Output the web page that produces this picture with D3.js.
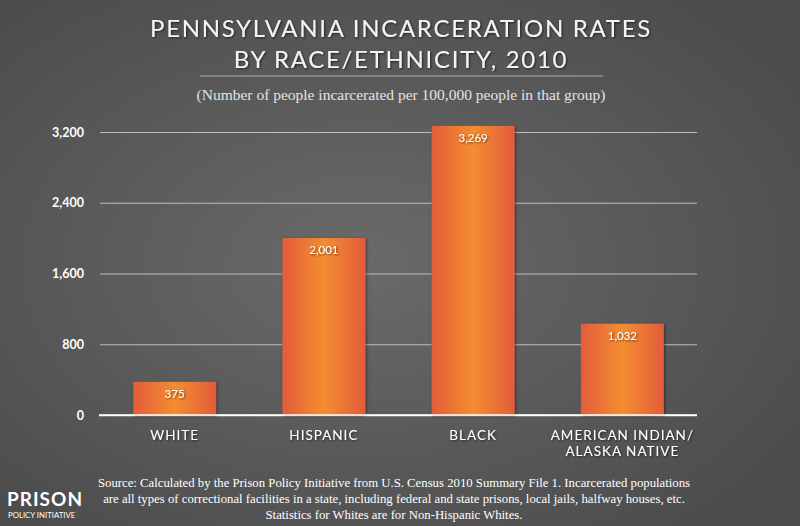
<!DOCTYPE html>
<html>
<head>
<meta charset="utf-8">
<script src="https://cdn.jsdelivr.net/npm/d3@7"></script>
<style>
  body { margin: 0; background: #555; }
  svg { display: block; }
</style>
</head>
<body>
<svg id="chart"></svg>
<script>
const categories = ["WHITE", "HISPANIC", "BLACK", "AMERICAN INDIAN/\nALASKA NATIVE"];
const values = [375, 2001, 3269, 1032];
const yTicks = [0, 800, 1600, 2400, 3200];
const titleLines = ["PENNSYLVANIA INCARCERATION RATES", "BY RACE/ETHNICITY, 2010"];
const subtitle = "(Number of people incarcerated per 100,000 people in that group)";
const sourceLines = [
  "Source: Calculated by the Prison Policy Initiative from U.S. Census 2010 Summary File 1. Incarcerated populations",
  "are all types of correctional facilities in a state, including federal and state prisons, local jails, halfway houses, etc.",
  "Statistics for Whites are for Non-Hispanic Whites."
];

const w = 800, h = 526;
const svg = d3.select("#chart").attr("width", w).attr("height", h);
const defs = svg.append("defs");

// background
const bg = defs.append("radialGradient").attr("id", "bg")
  .attr("cx", "45%").attr("cy", "50%").attr("r", "65%");
bg.append("stop").attr("offset", "0%").attr("stop-color", "#6a6a6a");
bg.append("stop").attr("offset", "100%").attr("stop-color", "#4c4c4c");
svg.append("rect").attr("width", w).attr("height", h).attr("fill", "url(#bg)");

// bar fill
const barGrad = defs.append("linearGradient").attr("id", "bar")
  .attr("x1", "0%").attr("x2", "100%").attr("y1", "0%").attr("y2", "0%");
barGrad.append("stop").attr("offset", "0%").attr("stop-color", "#e35c3a");
barGrad.append("stop").attr("offset", "50%").attr("stop-color", "#f48d31");
barGrad.append("stop").attr("offset", "100%").attr("stop-color", "#e35c3a");

const shadow = defs.append("filter").attr("id", "shadow")
  .attr("x", "-20%").attr("y", "-20%").attr("width", "140%").attr("height", "140%");
shadow.append("feDropShadow").attr("dx", 1).attr("dy", 1).attr("stdDeviation", 1.5)
  .attr("flood-color", "#000").attr("flood-opacity", 0.5);

const tshadow = defs.append("filter").attr("id", "tshadow");
tshadow.append("feDropShadow").attr("dx", 1).attr("dy", 1).attr("stdDeviation", 1)
  .attr("flood-color", "#000").attr("flood-opacity", 0.6);

// scales
const x0 = 100, x1 = 697, yBase = 415, yTop = 132;
const x = d3.scaleBand().domain(categories).range([x0, x1])
  .paddingInner(0.444).paddingOuter(0.222);
const y = d3.scaleLinear().domain([0, 3200]).range([yBase, yTop]);

// title
svg.append("g").selectAll("text").data(titleLines).join("text")
  .attr("x", 401).attr("y", (d, i) => 37 + i * 31)
  .attr("text-anchor", "middle")
  .attr("fill", "#f4f4f4")
  .attr("font-family", "Lato, sans-serif")
  .attr("font-size", 24)
  .attr("letter-spacing", 1.7)
  .attr("filter", "url(#tshadow)")
  .text(d => d);

svg.append("line").attr("x1", 200).attr("x2", 603).attr("y1", 76).attr("y2", 76)
  .attr("stroke", "#aaa").attr("stroke-width", 1);

svg.append("text").attr("x", 401).attr("y", 100)
  .attr("text-anchor", "middle").attr("fill", "#e4e4e4")
  .attr("font-family", "'Liberation Serif', serif").attr("font-size", 15.5)
  .text(subtitle);

// grid + y axis
const yAxis = d3.axisLeft(y).tickValues(yTicks).tickSize(-(x1 - x0))
  .tickFormat(d3.format(","));
const gy = svg.append("g").attr("transform", `translate(${x0},0)`).call(yAxis);
gy.select(".domain").remove();
gy.selectAll(".tick line").attr("stroke", "#bdbdbd").attr("stroke-width", 1)
  .filter(d => d === 0).attr("stroke", "#fff").attr("stroke-width", 1.5)
  .attr("x1", -1);
gy.selectAll(".tick text").attr("x", -16).attr("fill", "#fff")
  .attr("font-family", "Lato, sans-serif").attr("font-weight", "bold")
  .attr("font-size", 12.5);

// bars
svg.append("g").selectAll("rect").data(values).join("rect")
  .attr("x", (d, i) => x(categories[i]))
  .attr("width", x.bandwidth())
  .attr("y", d => y(d))
  .attr("height", d => y(0) - y(d))
  .attr("fill", "url(#bar)")
  .attr("filter", "url(#shadow)");

// redraw baseline above bars
svg.append("line").attr("x1", x0 - 1).attr("x2", x1).attr("y1", y(0)).attr("y2", y(0))
  .attr("stroke", "#fff").attr("stroke-width", 1.5);

// value labels
svg.append("g").selectAll("text").data(values).join("text")
  .attr("x", (d, i) => x(categories[i]) + x.bandwidth() / 2)
  .attr("y", d => y(d) + 16)
  .attr("text-anchor", "middle").attr("fill", "#fff")
  .attr("font-family", "Lato, sans-serif").attr("font-size", 11.5)
  .attr("filter", "url(#tshadow)")
  .text(d => d3.format(",")(d));

// x labels
const xl = svg.append("g").selectAll("text").data(categories).join("text")
  .attr("text-anchor", "middle").attr("fill", "#fff")
  .attr("font-family", "Lato, sans-serif").attr("font-size", 13.5)
  .attr("letter-spacing", 1)
  .attr("filter", "url(#tshadow)");
xl.each(function (d) {
  const t = d3.select(this);
  const cx = x(d) + x.bandwidth() / 2;
  d.split("\n").forEach((line, i) => {
    t.append("tspan").attr("x", cx).attr("y", 440 + i * 16).text(line);
  });
});

// source
svg.append("g").selectAll("text").data(sourceLines).join("text")
  .attr("x", 394).attr("y", (d, i) => 487 + i * 16)
  .attr("text-anchor", "middle").attr("fill", "#fff")
  .attr("font-family", "'Liberation Serif', serif").attr("font-size", 12.75)
  .text(d => d);

// logo
svg.append("text").attr("x", 7).attr("y", 506)
  .attr("fill", "#fff").attr("font-family", "Lato, sans-serif")
  .attr("font-weight", "bold").attr("font-size", 19).attr("letter-spacing", 1)
  .text("PRISON");
svg.append("text").attr("x", 8).attr("y", 518)
  .attr("fill", "#fff").attr("font-family", "Lato, sans-serif")
  .attr("font-size", 7.8)
  .text("POLICY INITIATIVE");
</script>
</body>
</html>
